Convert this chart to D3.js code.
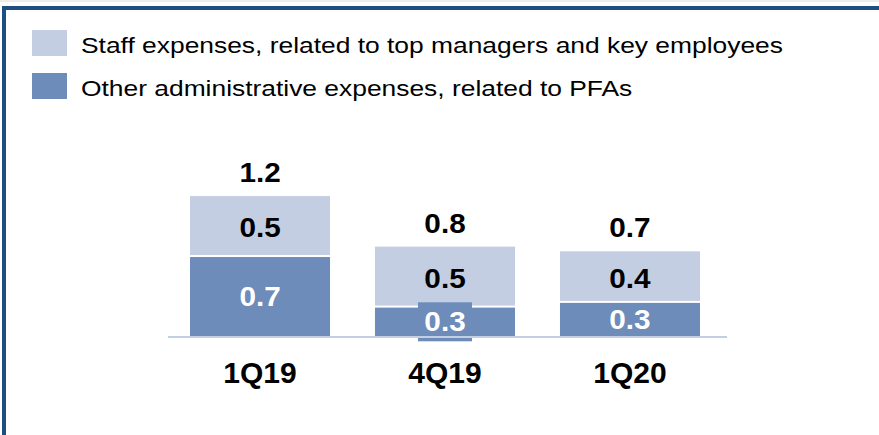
<!DOCTYPE html>
<html>
<head>
<meta charset="utf-8">
<script src="https://cdn.jsdelivr.net/npm/d3@7"></script>
<style>
  body { margin: 0; background: #fff; }
  text { font-family: Arial, "Liberation Sans", sans-serif; }
</style>
</head>
<body>
<div id="chart"></div>
<script>
// data
var quarters = ["1Q19", "4Q19", "1Q20"];
var staffExpenses = [0.51, 0.51, 0.43];
var otherAdmin = [0.68, 0.25, 0.29];
var legendLabels = [
  "Staff expenses, related to top managers and key employees",
  "Other administrative expenses, related to PFAs"
];

var svgWidth = 879;
var svgHeight = 435;

var lightColor = "#c3cee2";
var darkColor = "#6d8cba";
var frameColor = "#1f4e83";

var svg = d3.select("#chart")
  .append("svg")
  .attr("width", svgWidth)
  .attr("height", svgHeight);

// frame: thin grey strip, then dark blue top and left borders
svg.append("rect")
  .attr("x", 0).attr("y", 0)
  .attr("width", svgWidth).attr("height", 2)
  .attr("fill", "#eeeeee");
svg.append("rect")
  .attr("x", 2).attr("y", 6)
  .attr("width", svgWidth - 2).attr("height", 4)
  .attr("fill", frameColor);
svg.append("rect")
  .attr("x", 2).attr("y", 6)
  .attr("width", 4).attr("height", svgHeight - 6)
  .attr("fill", frameColor);

// legend (the source font runs a bit wider than Arial, so stretch it)
var legend = svg.append("g").attr("transform", "translate(32, 30)");
legendLabels.forEach(function(label, i) {
  var row = legend.append("g").attr("transform", `translate(0, ${i * 43})`);
  row.append("rect")
    .attr("width", 35)
    .attr("height", 26)
    .attr("fill", i === 0 ? lightColor : darkColor);
  row.append("text")
    .attr("transform", "translate(49, 23) scale(1.2, 1)")
    .attr("font-size", "22px")
    .attr("fill", "#000")
    .text(label);
});

// scales
var xScale = d3.scaleBand()
  .domain(quarters)
  .range([190, 700])
  .paddingInner(0.243)
  .paddingOuter(0);

var yScale = d3.scaleLinear()
  .domain([0, 1.2])
  .range([336, 336 - 1.2 * 117.6]);

var fmt = d3.format(".1f");

var rows = quarters.map(function(q, i) {
  return { q: q, other: otherAdmin[i], staff: staffExpenses[i], total: otherAdmin[i] + staffExpenses[i] };
});

var barGroup = svg.append("g");

var bars = barGroup.selectAll("g.bar")
  .data(rows)
  .enter()
  .append("g")
  .attr("class", "bar");

// other administrative (bottom)
bars.append("rect")
  .attr("x", d => xScale(d.q))
  .attr("width", xScale.bandwidth())
  .attr("y", d => yScale(d.other) + 1)
  .attr("height", d => yScale(0) - yScale(d.other) - 1)
  .attr("fill", darkColor);

// staff expenses (top)
bars.append("rect")
  .attr("x", d => xScale(d.q))
  .attr("width", xScale.bandwidth())
  .attr("y", d => yScale(d.total))
  .attr("height", d => yScale(d.other) - yScale(d.total) - 1)
  .attr("fill", lightColor);

// axis line
svg.append("rect")
  .attr("x", 168)
  .attr("y", yScale(0))
  .attr("width", 559)
  .attr("height", 2)
  .attr("fill", "#c3cee2");

var cx = d => xScale(d.q) + xScale.bandwidth() / 2;

// label box for the small segment that can't hold its label
bars.filter(d => yScale(0) - yScale(d.other) < 31)
  .append("rect")
  .attr("x", d => cx(d) - 27)
  .attr("y", d => (yScale(0) + yScale(d.other)) / 2 - 19)
  .attr("width", 54)
  .attr("height", 39)
  .attr("fill", darkColor);

function valueLabel(sel, yFn, color, textFn) {
  sel.append("text")
    .attr("transform", d => `translate(${cx(d)}, ${yFn(d)}) scale(1.1, 1)`)
    .attr("text-anchor", "middle")
    .attr("font-size", "27px")
    .attr("font-weight", "bold")
    .attr("fill", color)
    .text(textFn);
}

// segment labels
valueLabel(bars, d => (yScale(0) + yScale(d.other)) / 2 + 10, "#fff", d => fmt(d.other));
valueLabel(bars, d => (yScale(d.other) + yScale(d.total)) / 2 + 11, "#000", d => fmt(d.staff));

// totals
valueLabel(bars, d => yScale(d.total) - 14, "#000", d => fmt(d.total));

// category labels
var bottomAxis = d3.axisBottom(xScale).tickSize(0).tickPadding(0);
var xAxis = svg.append("g")
  .attr("transform", "translate(0, 383)")
  .call(bottomAxis);
xAxis.select(".domain").remove();
xAxis.selectAll("text")
  .attr("dy", 0)
  .attr("font-family", "Arial, 'Liberation Sans', sans-serif")
  .attr("font-size", "30px")
  .attr("font-weight", "bold")
  .attr("fill", "#000");
</script>
</body>
</html>
